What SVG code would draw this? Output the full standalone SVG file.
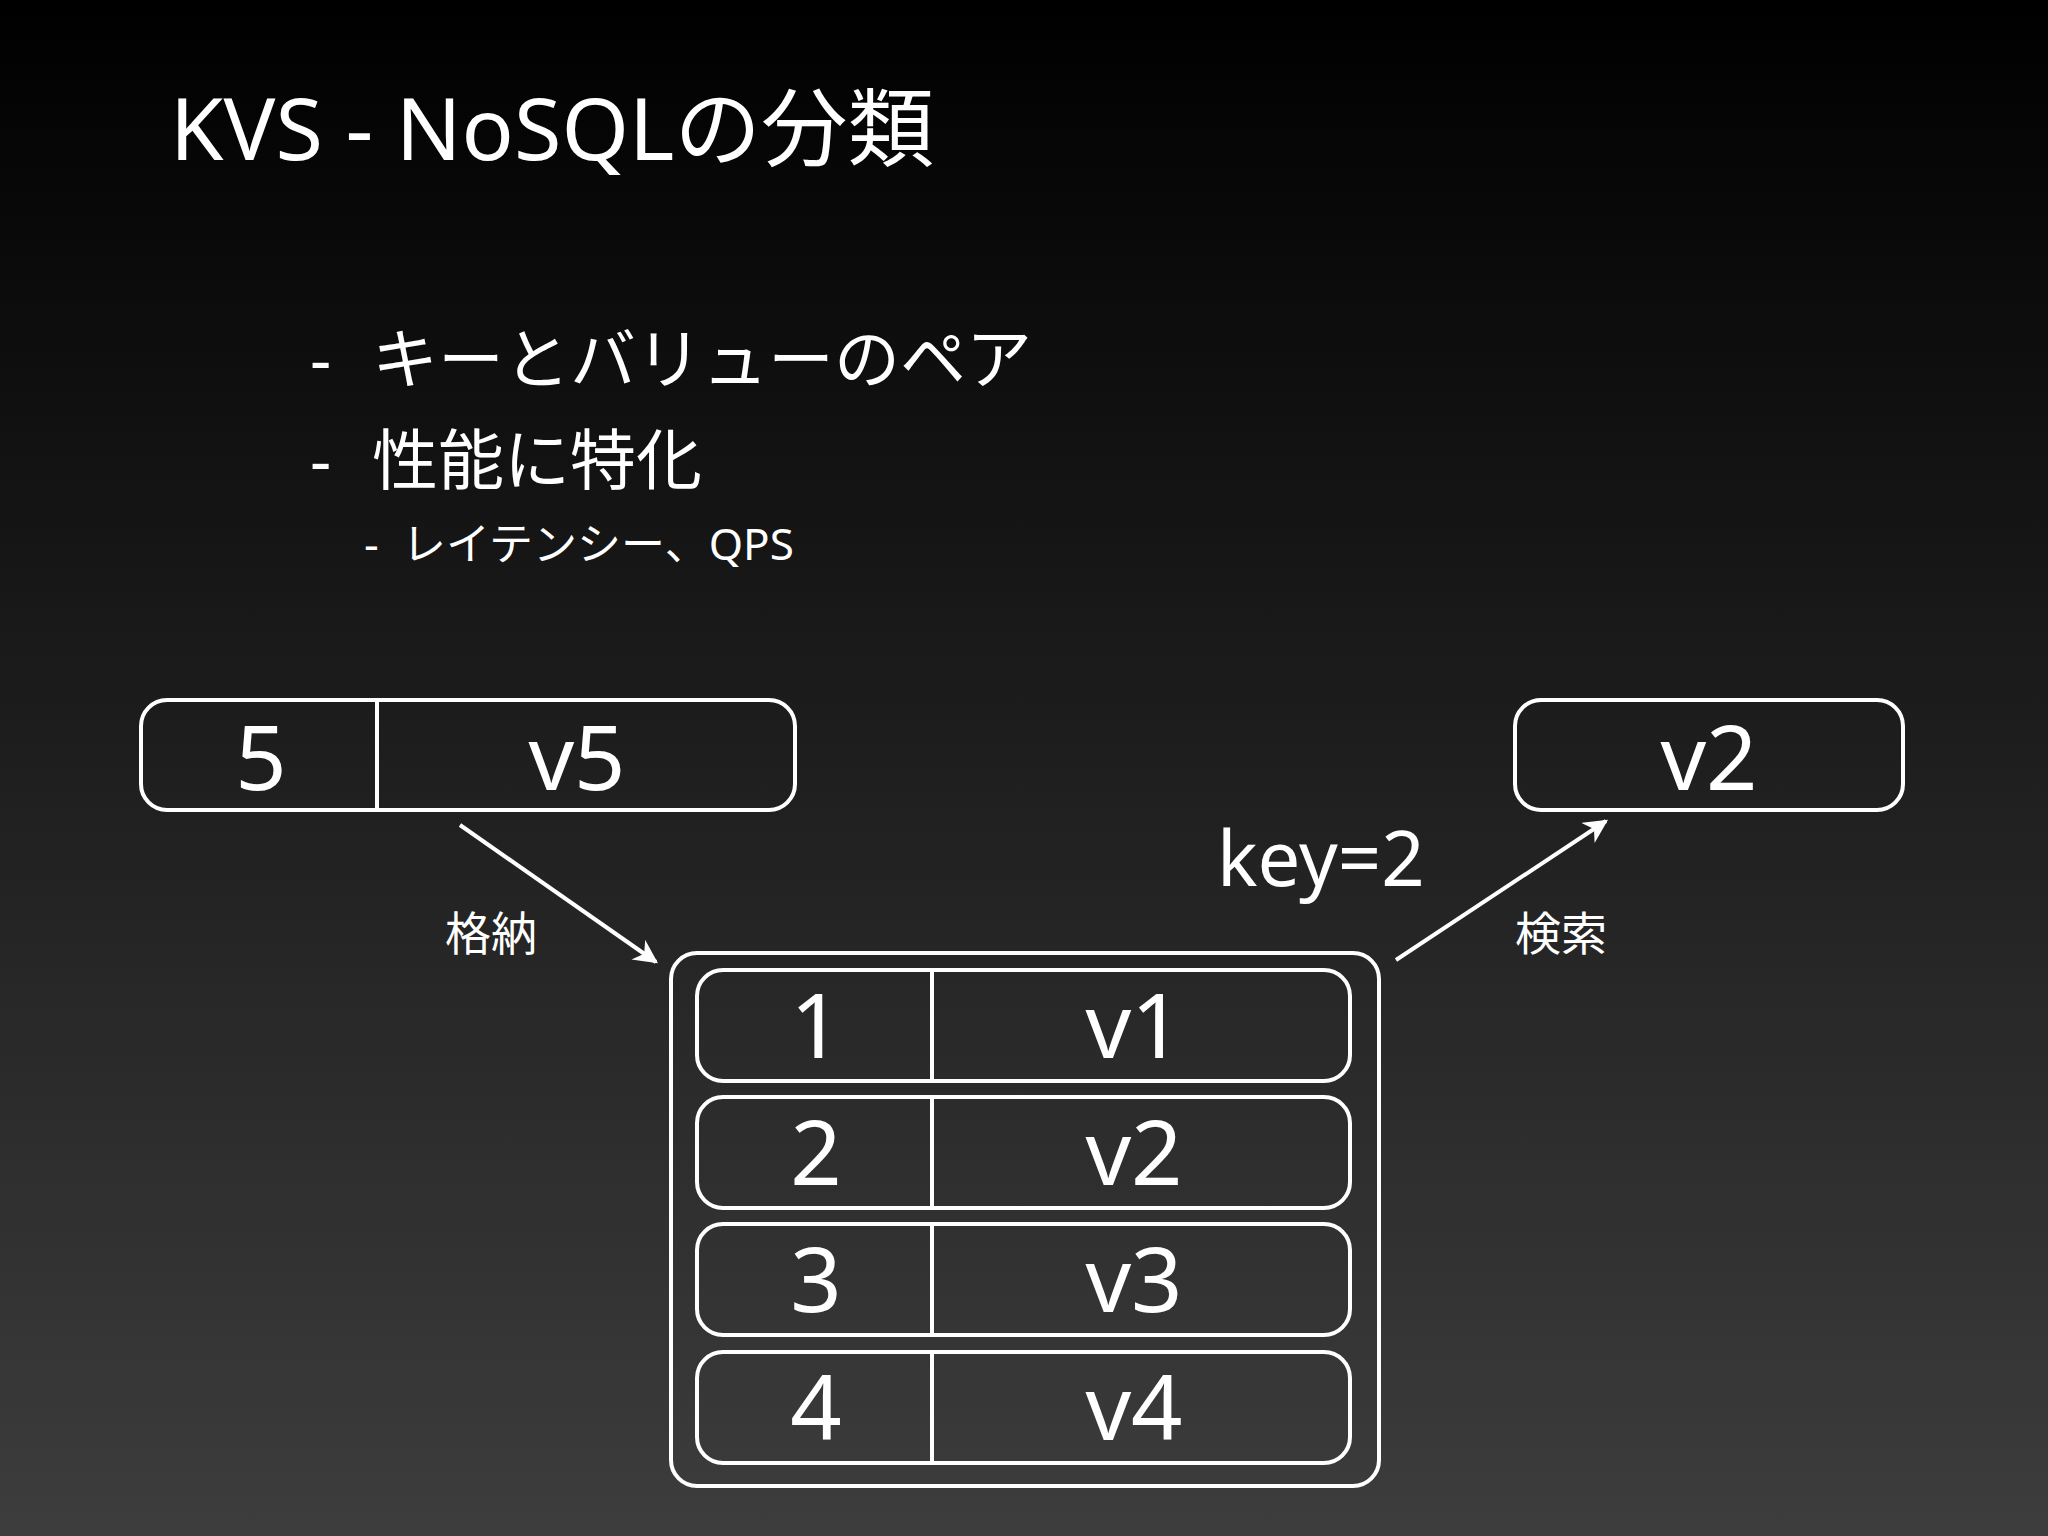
<svg xmlns="http://www.w3.org/2000/svg" width="2048" height="1536" viewBox="0 0 2048 1536">
<defs>
<linearGradient id="bg" x1="0" y1="0" x2="0" y2="1"><stop offset="0" stop-color="#000"/><stop offset="1" stop-color="#3d3d3d"/></linearGradient>
<marker id="ah" viewBox="0 0 10 10" refX="9" refY="5" markerWidth="6" markerHeight="6" orient="auto"><path d="M0,0 L10,5 L0,10 L3,5 Z" fill="#fff"/></marker>
<style>
text{fill:#fff;font-family:"Noto Sans","Noto Sans CJK JP",sans-serif}
.b{fill:none;stroke:#fff;stroke-width:4}
.big{font-size:90px;text-anchor:middle}
.c{stroke:#fff;stroke-width:4;fill:none;marker-end:url(#ah)}
</style>
</defs>
<rect width="2048" height="1536" fill="url(#bg)"/>
<text x="170" y="160" font-size="86" textLength="764" lengthAdjust="spacingAndGlyphs">KVS - NoSQLの分類</text>
<text x="310" y="383" font-size="66">-</text><text x="372" y="383" font-size="66">キーとバリューのペア</text>
<text x="310" y="484" font-size="66">-</text><text x="372" y="484" font-size="66">性能に特化</text>
<text x="364" y="560" font-size="46">-</text><text x="402" y="560" font-size="44">レイテンシー、QPS</text>
<g id="input"><rect class="b" x="141" y="700" width="654" height="110" rx="26"/><line class="b" x1="377" y1="700" x2="377" y2="810"/><text class="big" x="261" y="790">5</text><text class="big" x="577" y="790">v5</text></g>
<g id="output"><rect class="b" x="1515" y="700" width="388" height="110" rx="26"/><text class="big" x="1709" y="790">v2</text></g>
<g id="store"><rect class="b" x="671" y="953" width="708" height="533" rx="26"/>
<g id="r1"><rect class="b" x="697" y="970" width="653" height="111" rx="26"/><line class="b" x1="932" y1="970" x2="932" y2="1081"/><text class="big" x="816" y="1058">1</text><text class="big" x="1134" y="1058">v1</text></g>
<g id="r2"><rect class="b" x="697" y="1097" width="653" height="111" rx="26"/><line class="b" x1="932" y1="1097" x2="932" y2="1208"/><text class="big" x="816" y="1185">2</text><text class="big" x="1134" y="1185">v2</text></g>
<g id="r3"><rect class="b" x="697" y="1224" width="653" height="111" rx="26"/><line class="b" x1="932" y1="1224" x2="932" y2="1335"/><text class="big" x="816" y="1312">3</text><text class="big" x="1134" y="1312">v3</text></g>
<g id="r4"><rect class="b" x="697" y="1352" width="653" height="111" rx="26"/><line class="b" x1="932" y1="1352" x2="932" y2="1463"/><text class="big" x="816" y="1440">4</text><text class="big" x="1134" y="1440">v4</text></g>
</g>
<g id="connectors">
<line class="c" x1="460" y1="825" x2="656" y2="962"/>
<line class="c" x1="1396" y1="960" x2="1606" y2="821"/>
<text x="491" y="950" font-size="46" text-anchor="middle">格納</text>
<text x="1561" y="950" font-size="46" text-anchor="middle">検索</text>
<text x="1217" y="886" font-size="76">key=2</text>
</g>
</svg>
